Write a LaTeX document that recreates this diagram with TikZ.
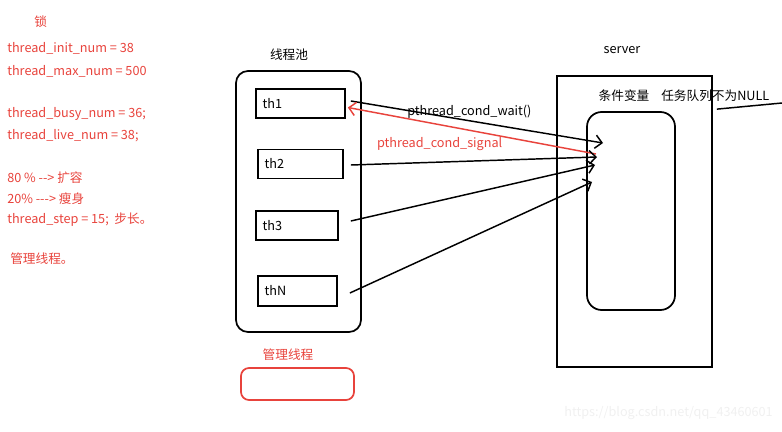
\documentclass[tikz,border=0pt]{standalone}
\usepackage{fontspec}
\setmainfont{Noto Sans CJK SC}
\usetikzlibrary{arrows.meta,positioning,calc}
\definecolor{NoteRed}{HTML}{E8433C}
\definecolor{MarkGray}{HTML}{F0F0F0}
\newcommand{\txtsize}{\fontsize{9.5}{11}\selectfont}
\tikzset{
  % thread boxes
  thbox/.style={rectangle,draw,line width=1.3pt,text width=#1,align=left,
                inner xsep=5pt,minimum height=21.75pt,font=\txtsize},
  % big frames
  frame/.style={rectangle,draw,line width=1.3pt},
  % notes
  note/.style={font=\txtsize,text=NoteRed,anchor=west,inner sep=0pt},
  lbl/.style={font=\txtsize,inner sep=0pt},
  % arrows
  arr/.style={-{Straight Barb[length=5pt,width=10pt]},line width=1.1pt},
  sig/.style={arr,draw=NoteRed}
}
\begin{document}
\begin{tikzpicture}[x=0.75pt,y=-0.75pt]
  \useasboundingbox (0,0) rectangle (782,432);

  % notes on the left
  \node[note] (lock) at (34,22) {锁};
  \foreach \y/\t [count=\i] in {48/{thread\_init\_num = 38},
                                71/{thread\_max\_num = 500},
                                114/{thread\_busy\_num = 36;},
                                136/{thread\_live\_num = 38;},
                                178/{80 \% {-}{-}> 扩容},
                                199/{20\% {-}{-}{-}> 瘦身},
                                220/{thread\_step = 15;\ \ 步长。}}
    \node[note] (n\i) at (7,\y) {\t};
  \node[note] (mgrnote) at (10,259) {管理线程。};

  % thread pool
  \node[lbl] (pooltitle) at (289,55) {线程池};
  \node[frame,rounded corners=9pt,minimum width=93.75pt,minimum height=195.75pt] (pool) at (298.5,201.5) {};
  \node[thbox=56.75pt] (th1) at (300.5,103.5) {th1};
  \node[thbox=53.75pt] (th2) at (300.5,164) {th2};
  \node[thbox=51.5pt]  (th3) at (297,225.5) {th3};
  \node[thbox=49.25pt,minimum height=22.5pt] (thN) at (297.5,291) {thN};

  % manager thread
  \node[lbl,text=NoteRed] (mgrtitle) at (288,355) {管理线程};
  \node[frame,draw=NoteRed,rounded corners=6pt,minimum width=84.75pt,minimum height=24pt] (mgr) at (297.5,384) {};

  % server side
  \node[lbl] (srvtitle) at (622,50) {server};
  \node[frame,minimum width=116.25pt,minimum height=218.25pt] (srv) at (634.5,221.5) {};
  \node[frame,rounded corners=11pt,minimum width=66pt,minimum height=148.5pt] (cond) at (631,211) {};
  \node[lbl] (condtitle) at (624,96) {条件变量};
  \node[lbl,anchor=west] (queue) at (661,96) {任务队列不为NULL};

  \coordinate (w1) at (603,143);
  \coordinate (s1) at (596,154);
  \coordinate (w2) at (597,157);
  \coordinate (w3) at (595,165);
  \coordinate (w4) at (592,182);
  \coordinate (qend) at (782,103);

  \draw[arr] ($(th1.east)+(5,-2.5)$) -- node[lbl,pos=0.47,above=1pt] (waitlbl) {pthread\_cond\_wait()} (w1);
  \draw[sig] (s1) -- node[lbl,text=NoteRed,pos=0.63,below=9pt] (siglbl) {pthread\_cond\_signal} ($(th1.east)+(2,4)$);
  \draw[arr] ($(th2.east)+(7,1)$) -- (w2);
  \draw[arr] ($(th3.east)+(12,-4.5)$) -- (w3);
  \draw[arr] ($(thN.east)+(12,2)$) -- (w4);
  \draw[line width=1.1pt] ($(srv.north east)+(4,34)$) -- (qend);

  % watermark
  \node[lbl,text=MarkGray,anchor=east] (mark) at (773,413) {https://blog.csdn.net/qq\_43460601};
\end{tikzpicture}
\end{document}
